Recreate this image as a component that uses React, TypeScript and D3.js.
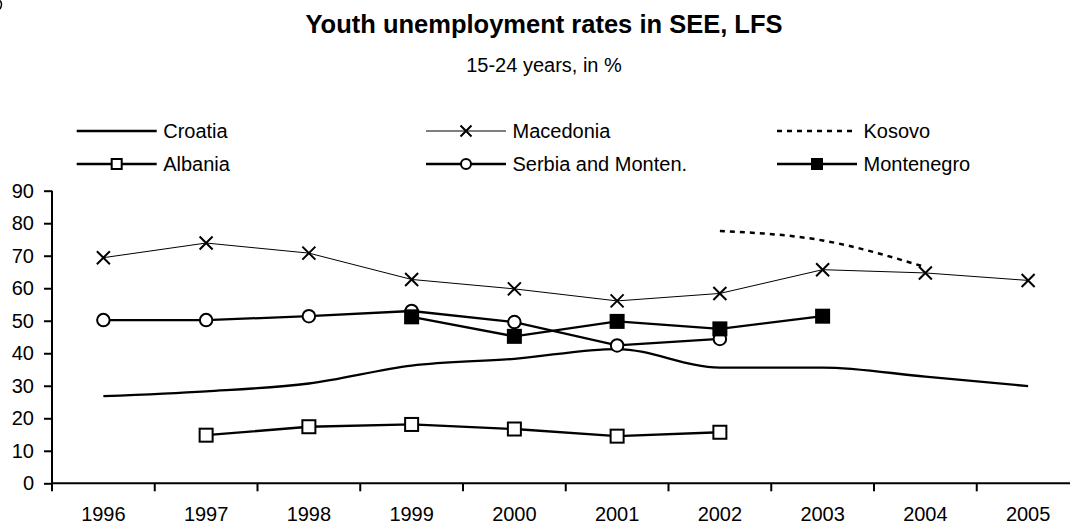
import React, { useEffect, useRef } from "react";
import * as d3 from "d3";

const years = ["1996", "1997", "1998", "1999", "2000", "2001", "2002", "2003", "2004", "2005"];
const yTicks = [0, 10, 20, 30, 40, 50, 60, 70, 80, 90];

const croatia = [26.8, 28.3, 30.7, 36.2, 38.3, 41.3, 35.6, 35.6, 32.8, 29.9];
const macedonia = [69.4, 73.9, 70.8, 62.7, 59.8, 56.1, 58.4, 65.7, 64.7, 62.4];
const kosovo = [null, null, null, null, null, null, 77.6, 74.7, 66.5, null];
const albania = [null, 14.8, 17.4, 18.1, 16.7, 14.5, 15.7, null, null, null];
const serbia = [50.2, 50.2, 51.4, 53.0, 49.6, 42.4, 44.4, null, null, null];
const montenegro = [null, null, null, 51.2, 45.2, 49.8, 47.5, 51.4, null, null];

type Series = {
  name: string;
  values: (number | null)[];
  width: number;
  marker: "none" | "x" | "square" | "circle" | "filled";
  dash?: string;
  smooth?: boolean;
};

const series: Series[] = [
  { name: "Croatia", values: croatia, width: 2.3, marker: "none", smooth: true },
  { name: "Macedonia", values: macedonia, width: 1, marker: "x" },
  { name: "Kosovo", values: kosovo, width: 2.5, marker: "none", dash: "5,5", smooth: true },
  { name: "Albania", values: albania, width: 2.3, marker: "square" },
  { name: "Serbia and Monten.", values: serbia, width: 2.3, marker: "circle" },
  { name: "Montenegro", values: montenegro, width: 2.3, marker: "filled" },
];

const FONT = "'Liberation Sans', Arial, sans-serif";

const drawMarker = (g: any, kind: string, x: number, y: number, size: number) => {
  if (kind === "x") {
    const h = size / 2;
    g.append("path")
      .attr("d", `M${x - h},${y - h}L${x + h},${y + h}M${x - h},${y + h}L${x + h},${y - h}`)
      .attr("stroke", "#000")
      .attr("stroke-width", 2)
      .attr("fill", "none");
  } else if (kind === "square" || kind === "filled") {
    g.append("rect")
      .attr("x", x - size / 2)
      .attr("y", y - size / 2)
      .attr("width", size)
      .attr("height", size)
      .attr("fill", kind === "filled" ? "#000" : "#fff")
      .attr("stroke", "#000")
      .attr("stroke-width", 2);
  } else if (kind === "circle") {
    g.append("circle")
      .attr("cx", x)
      .attr("cy", y)
      .attr("r", size / 2)
      .attr("fill", "#fff")
      .attr("stroke", "#000")
      .attr("stroke-width", 2);
  }
};

const App = () => {
  const ref = useRef<SVGSVGElement | null>(null);

  useEffect(() => {
    const svg = d3.select(ref.current);
    svg.selectAll("*").remove();

    const left = 52;
    const step = 102.75;

    const x = d3
      .scaleBand()
      .domain(years)
      .range([left, left + step * years.length])
      .padding(0);
    const cx = (i: number) => (x(years[i]) as number) + x.bandwidth() / 2;

    const y = d3.scaleLinear().domain([0, 90]).range([483.3, 190.7]);

    // titles
    svg
      .append("text")
      .attr("x", 544)
      .attr("y", 33)
      .attr("text-anchor", "middle")
      .style("font-family", FONT)
      .style("font-size", "25.5px")
      .style("font-weight", "bold")
      .text("Youth unemployment rates in SEE, LFS");

    svg
      .append("text")
      .attr("x", 544)
      .attr("y", 71.5)
      .attr("text-anchor", "middle")
      .style("font-family", FONT)
      .style("font-size", "20px")
      .text("15-24 years, in %");

    // bit of a glyph cut off at the top-left edge
    svg
      .append("path")
      .attr("d", "M0,0.5Q3,4 0,9")
      .attr("fill", "none")
      .attr("stroke", "#000")
      .attr("stroke-width", 1.5);

    // Y axis
    const yAxis = svg
      .append("g")
      .attr("transform", `translate(${left},0)`)
      .call(d3.axisLeft(y).tickValues(yTicks).tickSize(8).tickPadding(10));
    yAxis.selectAll("path, line").attr("stroke", "#000").attr("stroke-width", 2);
    yAxis
      .selectAll("text")
      .style("font-family", FONT)
      .style("font-size", "20px")
      .attr("fill", "#000");
    yAxis.select(".domain").attr("d", `M0,${y(90)}V${y(0)}`);

    // X axis
    const xAxis = svg
      .append("g")
      .attr("transform", `translate(0,${y(0)})`)
      .call(d3.axisBottom(x).tickSize(0).tickPadding(24));
    xAxis.select(".domain").attr("d", `M${left},0H${left + step * years.length}`);
    xAxis.selectAll("path").attr("stroke", "#000").attr("stroke-width", 2);
    xAxis
      .selectAll("text")
      .style("font-family", FONT)
      .style("font-size", "20px")
      .attr("fill", "#000");
    xAxis
      .selectAll(".sep")
      .data(d3.range(years.length + 1))
      .enter()
      .append("line")
      .attr("x1", (d) => left + step * d)
      .attr("x2", (d) => left + step * d)
      .attr("y1", 0)
      .attr("y2", 8)
      .attr("stroke", "#000")
      .attr("stroke-width", 2);

    // lines
    const plot = svg.append("g");
    series.forEach((s) => {
      const line = d3
        .line<number | null>()
        .defined((d) => d !== null)
        .x((_, i) => cx(i))
        .y((d) => y(d as number))
        .curve(s.smooth ? d3.curveMonotoneX : d3.curveLinear);
      plot
        .append("path")
        .attr("d", line(s.values))
        .attr("fill", "none")
        .attr("stroke", "#000")
        .attr("stroke-width", s.width)
        .attr("stroke-dasharray", s.dash || null);
    });
    series.forEach((s) => {
      const size = s.marker === "circle" ? 12.5 : 13;
      s.values.forEach((v, i) => {
        if (v !== null && s.marker !== "none") drawMarker(plot, s.marker, cx(i), y(v), size);
      });
    });

    // legend
    const cols = [76.7, 426, 777];
    const rows = [131, 164];
    const legend = svg.append("g");
    series.forEach((s, k) => {
      const lx = cols[k % 3];
      const ly = rows[Math.floor(k / 3)];
      legend
        .append("line")
        .attr("x1", lx)
        .attr("x2", lx + 80)
        .attr("y1", ly)
        .attr("y2", ly)
        .attr("stroke", "#000")
        .attr("stroke-width", s.width)
        .attr("stroke-dasharray", s.dash || null);
      if (s.marker !== "none") drawMarker(legend, s.marker, lx + 40, ly, s.marker === "x" ? 11 : 10);
      legend
        .append("text")
        .attr("x", lx + 86.5)
        .attr("y", ly + 7)
        .style("font-family", FONT)
        .style("font-size", "20px")
        .text(s.name);
    });
  }, []);

  return (
    <svg
      ref={ref}
      width={1070}
      height={525}
      style={{ position: "absolute", left: 0, top: 0, display: "block", background: "#fff" }}
    />
  );
};

export default App;
